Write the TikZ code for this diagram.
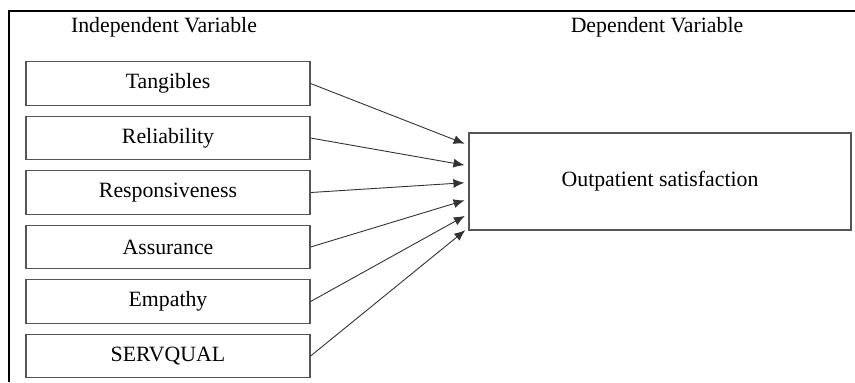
\documentclass[tikz,border=0pt]{standalone}
\usepackage{fontspec}
\setmainfont{Liberation Serif}
\usepackage{tikz}
\usetikzlibrary{arrows,arrows.meta,positioning,calc}
\usepackage{xcolor}
\definecolor{boxgray}{RGB}{85,85,85}

\begin{document}
\begin{tikzpicture}[x=0.5pt, y=-0.5pt, node distance=4.9pt, font=\fontsize{10.9}{13}\selectfont]
\tikzstyle{dim} = [rectangle, draw=boxgray, line width=0.6pt, minimum width=142pt, minimum height=21.75pt, text centered];
\tikzstyle{arr} = [-{Latex[length=5.5pt,width=4.5pt]}, line width=0.45pt, black!80, shorten >=2pt];

\useasboundingbox (0,0) rectangle (855,382);
% frame
\draw[line width=0.8pt] (9,382) -- (9,11) -- (855,11);

\node (indep) at (164,27) {Independent Variable};
\node (dep) at (657,27) {Dependent Variable};

\node (tang) [dim] at (168,83.5) {Tangibles};
\node (reli) [dim, below=of tang] {Reliability};
\node (resp) [dim, below=of reli] {Responsiveness};
\node (assu) [dim, below=of resp] {Assurance};
\node (empa) [dim, below=of assu] {Empathy};
\node (serv) [dim, below=of empa] {SERVQUAL};

\node (sat) [dim, minimum width=191pt, minimum height=48.5pt] at (660,181.5) {Outpatient satisfaction};

% arrows into the dependent variable
\foreach \src/\f in {tang/0.13, reli/0.34, resp/0.51, assu/0.68, empa/0.83, serv/0.97}
  \draw[arr] (\src.east) -- ($(sat.north west)!\f!(sat.south west)$);
\end{tikzpicture}
\end{document}
